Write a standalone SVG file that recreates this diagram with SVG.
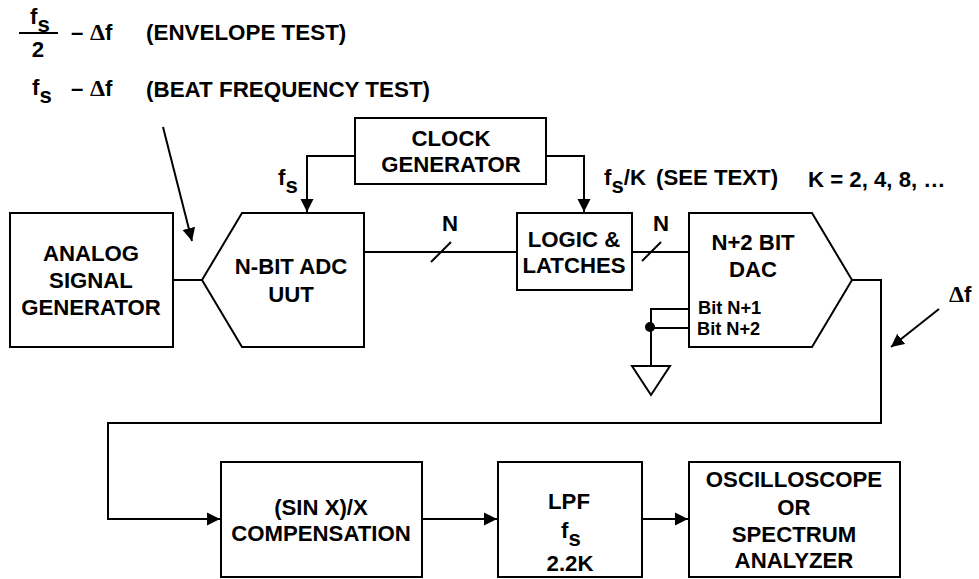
<svg xmlns="http://www.w3.org/2000/svg" width="979" height="579" viewBox="0 0 979 579">
<style>
text{font-family:"Liberation Sans",Arial,sans-serif;font-weight:bold;font-size:22.2px;fill:#000;text-anchor:middle}
.s{font-size:18.2px}
.t{font-size:22.4px}
.l{text-anchor:start}
.d{font-family:"Liberation Serif","Times New Roman",serif;font-size:24px}
.b{fill:#fff;stroke:#000;stroke-width:2}
.w{fill:none;stroke:#000;stroke-width:2}
</style>
<defs><marker id="a" markerUnits="userSpaceOnUse" markerWidth="14" markerHeight="14" refX="13" refY="7" orient="auto"><path d="M0 0.500L13 7L0 13.500z" fill="#000"/></marker></defs>
<rect width="979" height="579" fill="#fff"/>
<g id="connectors">
<path class="w" d="M355 156H307V212" marker-end="url(#a)"/>
<path class="w" d="M546 156H584V212" marker-end="url(#a)"/>
<path class="w" d="M173 280H202"/>
<path class="w" d="M364 252H517"/>
<path class="w" d="M632 252H689"/>
<path class="w" d="M431 262L451 242"/>
<path class="w" d="M642 261L661 242"/>
<path class="w" d="M689 309H651V366"/>
<path class="w" d="M689 328H651"/>
<circle cx="650" cy="327" r="5" fill="#000"/>
<path class="w" d="M852 280H881V423H108V519H220" marker-end="url(#a)"/>
<path class="w" d="M422 519H497" marker-end="url(#a)"/>
<path class="w" d="M642 519H688" marker-end="url(#a)"/>
<path class="w" d="M163 127L192 241" marker-end="url(#a)"/>
<path class="w" d="M939 309L891 347" marker-end="url(#a)"/>
<path class="w" d="M19 33H58"/>
<path class="w" d="M546 548H594"/>
</g>
<g id="analog-signal-generator"><rect class="b" x="10" y="213" width="163" height="134"/><text x="91" y="261">ANALOG</text><text x="91" y="288">SIGNAL</text><text x="91" y="315">GENERATOR</text></g>
<g id="adc"><path class="b" d="M202 280L242 213H364V347H242z"/><text x="291" y="274">N-BIT ADC</text><text x="291" y="302">UUT</text></g>
<g id="clock"><rect class="b" x="355" y="118" width="191" height="66"/><text x="451" y="146">CLOCK</text><text x="451" y="172">GENERATOR</text></g>
<g id="logic"><rect class="b" x="517" y="213" width="115" height="77"/><text x="574" y="247">LOGIC &amp;</text><text x="574" y="273">LATCHES</text></g>
<g id="dac"><path class="b" d="M689 213H812L852 280L812 347H689z"/><text x="753" y="250">N+2 BIT</text><text x="753" y="277">DAC</text><text class="s l" x="698" y="314">Bit N+1</text><text class="s l" x="697" y="335">Bit N+2</text></g>
<g id="ground"><path class="b" d="M632 366H670L651 395z"/></g>
<g id="compensation"><rect class="b" x="221" y="462" width="201" height="115"/><text x="321" y="515">(SIN X)/X</text><text x="321" y="541">COMPENSATION</text></g>
<g id="lpf"><rect class="b" x="498" y="462" width="144" height="115"/><text x="569" y="509">LPF</text><text class="l" x="561" y="538">f<tspan dy="8">s</tspan></text><text x="570" y="571">2.2K</text></g>
<g id="scope"><rect class="b" x="689" y="462" width="211" height="115"/><text x="794" y="487">OSCILLOSCOPE</text><text x="794" y="515">OR</text><text x="794" y="542">SPECTRUM</text><text x="794" y="568">ANALYZER</text></g>
<g id="labels">
<text class="l" x="30" y="24">f<tspan dy="8">s</tspan></text>
<text x="38" y="57">2</text>
<text class="l" x="71" y="40">–<tspan class="d" x="90">Δ</tspan>f</text>
<text class="l t" x="146" y="40">(ENVELOPE TEST)</text>
<text class="l" x="32" y="95">f<tspan dy="8">s</tspan></text>
<text class="l" x="71" y="96">–<tspan class="d" x="90">Δ</tspan>f</text>
<text class="l t" x="146" y="97">(BEAT FREQUENCY TEST)</text>
<text class="l" x="278" y="185">f<tspan dy="8">s</tspan></text>
<text x="450" y="231">N</text>
<text x="661" y="231">N</text>
<text class="l" x="604" y="185">f<tspan dy="8">s</tspan><tspan dy="-8">/K</tspan></text>
<text class="l" x="656" y="185">(SEE TEXT)</text>
<text class="l" x="808" y="187">K = 2, 4, 8, …</text>
<text class="l" x="949" y="302"><tspan class="d">Δ</tspan>f</text>
</g>
</svg>
